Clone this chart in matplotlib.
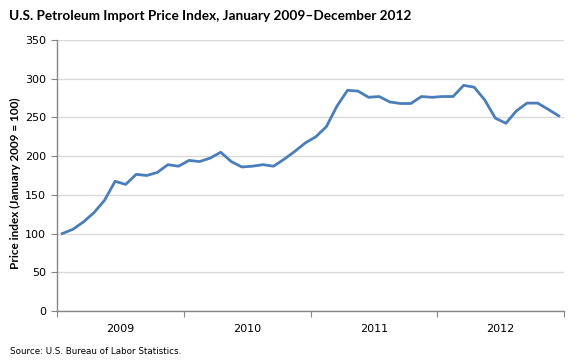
import matplotlib
matplotlib.use("Agg")
import matplotlib.pyplot as plt
import numpy as np

years = ["2009", "2010", "2011", "2012"]
index_values = [
    100, 105.5, 115, 127, 143, 167.5, 163.5, 176.5, 175, 179, 189, 187,
    194.5, 193, 197.5, 205, 193, 186, 187, 189, 187, 196, 206, 217,
    225, 238, 264.5, 285, 284, 276, 277, 270, 268, 268, 277, 276,
    277, 277, 291.5, 289, 272.5, 249, 242.5, 258.5, 268.5, 268.5, 260.5, 252,
]
y_ticks = [0, 50, 100, 150, 200, 250, 300, 350]

fig = plt.figure(figsize=(5.8, 3.6), dpi=100)
ax = fig.add_axes([57/580, 1 - 311/360, (564-57)/580, (311-40)/360])

x = np.arange(len(index_values))
ax.plot(x, index_values, color="#4a7ebb", lw=2.0, solid_joinstyle="round")

ax.set_xlim(-0.5, len(index_values) - 0.5)
ax.set_ylim(0, 350)
ax.set_yticks(y_ticks)
ax.yaxis.grid(True, color="#d9d9d9", lw=1.0)
ax.set_axisbelow(True)

n_per = 12
bounds = [-0.5 + n_per * i for i in range(len(years) + 1)]
ax.set_xticks(bounds)
ax.set_xticklabels([""] * len(bounds))
ax.set_xticks([-0.5 + n_per * i + n_per / 2 for i in range(len(years))], minor=True)
ax.set_xticklabels(years, minor=True)
ax.tick_params(axis="x", which="minor", length=0, pad=9, labelsize=8)
ax.tick_params(axis="x", which="major", length=4, color="#868686", direction="out")
ax.tick_params(axis="y", length=4, color="#868686", direction="out", labelsize=8, pad=4)

for s in ["top", "right"]:
    ax.spines[s].set_visible(False)
for s in ["left", "bottom"]:
    ax.spines[s].set_color("#868686")
    ax.spines[s].set_linewidth(1.0)

fig.text(15/580, 1 - 183/360, "Price index (January 2009 = 100)", fontsize=8.5,
         fontweight="bold", family="Lato", rotation=90, va="center", ha="center")

fig.text(9/580, 1 - 16/360, "U.S. Petroleum Import Price Index, January 2009\u2013December 2012",
         fontsize=9.8, fontweight="bold", family="Lato", va="center", ha="left")
fig.text(10/580, 1 - 351/360, "Source: U.S. Bureau of Labor Statistics.", fontsize=6.3,
         va="center", ha="left")

fig.savefig("out.png", dpi=100)
